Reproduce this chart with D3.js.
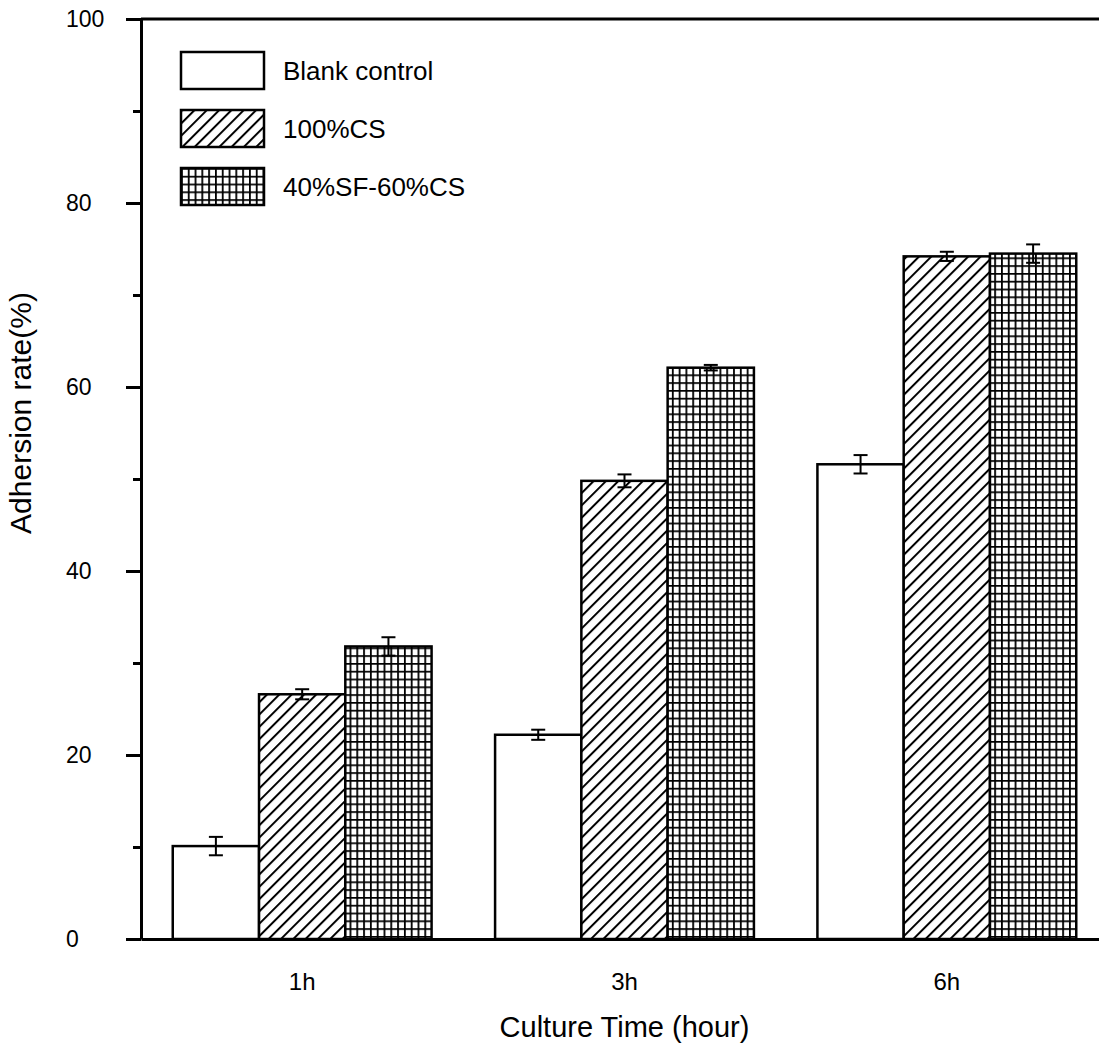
<!DOCTYPE html>
<html>
  <head>
    <title>Adhesion rate</title>
    <style>
      body { margin: 0; background: #fff; }
      text { font-family: "Liberation Sans", Arial, sans-serif; fill: #000; }
    </style>
  </head>
  <body>
    <svg id="chart"></svg>

    <script src="https://d3js.org/d3.v7.min.js"></script>
    <script>

// data
const times = ['1h', '3h', '6h'];
const series = ['Blank control', '100%CS', '40%SF-60%CS'];
const blankVals = [10.1, 22.2, 51.6];
const csVals = [26.6, 49.8, 74.2];
const sfcsVals = [31.8, 62.1, 74.5];
const blankErr = [1.0, 0.55, 1.0];
const csErr = [0.55, 0.7, 0.5];
const sfcsErr = [1.0, 0.3, 1.0];
const yTicks = [0, 20, 40, 60, 80, 100];
const yMinor = [10, 30, 50, 70, 90];

const width = 1099, height = 1044;
const plotLeft = 141, plotRight = 1108, plotTop = 19, plotBottom = 939;

const svg = d3.select('#chart')
  .attr('width', width)
  .attr('height', height);

// fill patterns
const defs = svg.append('defs');
const hatch = defs.append('pattern')
  .attr('id', 'hatch')
  .attr('patternUnits', 'userSpaceOnUse')
  .attr('width', 8.7).attr('height', 8.7)
  .attr('patternTransform', 'rotate(45)');
hatch.append('rect').attr('width', 8.7).attr('height', 8.7).attr('fill', '#fff');
hatch.append('line')
  .attr('x1', 1).attr('y1', 0).attr('x2', 1).attr('y2', 8.7)
  .attr('stroke', '#000').attr('stroke-width', 2);

const grid = defs.append('pattern')
  .attr('id', 'grid')
  .attr('patternUnits', 'userSpaceOnUse')
  .attr('width', 6.8).attr('height', 7.8);
grid.append('rect').attr('width', 6.8).attr('height', 7.8).attr('fill', '#fff');
grid.append('path')
  .attr('d', 'M0,0.9H6.8M0.9,0V7.8')
  .attr('stroke', '#000').attr('stroke-width', 1.8)
  .attr('fill', 'none');

const fills = ['#fff', 'url(#hatch)', 'url(#grid)'];

const x0 = d3.scaleBand()
  .domain(times)
  .range([plotLeft, plotRight])
  .paddingInner(0.197)
  .paddingOuter(0.0985);

const x1 = d3.scaleBand()
  .domain(series)
  .range([0, x0.bandwidth()]);

const y = d3.scaleLinear()
  .domain([0, 100])
  .range([plotBottom, plotTop]);

const data = times.map((t, i) => ({
  time: t,
  vals: [
    {s: series[0], v: blankVals[i], e: blankErr[i], k: 0},
    {s: series[1], v: csVals[i], e: csErr[i], k: 1},
    {s: series[2], v: sfcsVals[i], e: sfcsErr[i], k: 2}
  ]
}));

// bars
const groups = svg.selectAll('.grp')
  .data(data)
  .enter().append('g')
  .attr('class', 'grp')
  .attr('transform', d => `translate(${x0(d.time)},0)`);

groups.selectAll('rect')
  .data(d => d.vals)
  .enter().append('rect')
  .attr('x', d => x1(d.s))
  .attr('y', d => y(d.v))
  .attr('width', x1.bandwidth())
  .attr('height', d => y(0) - y(d.v))
  .attr('fill', d => fills[d.k])
  .attr('stroke', '#000')
  .attr('stroke-width', 2.5);

// error bars
const eb = groups.selectAll('.err')
  .data(d => d.vals)
  .enter().append('g')
  .attr('class', 'err')
  .attr('stroke', '#000')
  .attr('stroke-width', 2);

eb.append('line')
  .attr('x1', d => x1(d.s) + x1.bandwidth() / 2)
  .attr('x2', d => x1(d.s) + x1.bandwidth() / 2)
  .attr('y1', d => y(d.v - d.e))
  .attr('y2', d => y(d.v + d.e));
eb.append('line')
  .attr('x1', d => x1(d.s) + x1.bandwidth() / 2 - 7)
  .attr('x2', d => x1(d.s) + x1.bandwidth() / 2 + 7)
  .attr('y1', d => y(d.v + d.e))
  .attr('y2', d => y(d.v + d.e));
eb.append('line')
  .attr('x1', d => x1(d.s) + x1.bandwidth() / 2 - 7)
  .attr('x2', d => x1(d.s) + x1.bandwidth() / 2 + 7)
  .attr('y1', d => y(d.v - d.e))
  .attr('y2', d => y(d.v - d.e));

// axes
const yAxis = svg.append('g')
  .attr('transform', `translate(${plotLeft},0)`)
  .call(d3.axisLeft(y).tickValues(yTicks).tickSize(15).tickSizeOuter(0));
yAxis.select('.domain').attr('stroke-width', 3);
yAxis.selectAll('.tick line').attr('stroke-width', 3);
yAxis.selectAll('.tick text')
  .attr('x', 66 - plotLeft)
  .attr('text-anchor', 'start')
  .style('font-size', '23px')
  .style('font-family', '"Liberation Sans", Arial, sans-serif');

const yMinorAxis = svg.append('g')
  .attr('transform', `translate(${plotLeft},0)`)
  .call(d3.axisLeft(y).tickValues(yMinor).tickSize(8).tickFormat(''));
yMinorAxis.select('.domain').remove();
yMinorAxis.selectAll('.tick line').attr('stroke-width', 3);

const xAxis = svg.append('g')
  .attr('transform', `translate(0,${plotBottom})`)
  .call(d3.axisBottom(x0).tickSize(0).tickSizeOuter(0).tickPadding(34));
xAxis.select('.domain').attr('stroke-width', 3);
xAxis.selectAll('.tick text')
  .style('font-size', '24px')
  .style('font-family', '"Liberation Sans", Arial, sans-serif');

// top frame line
svg.append('line')
  .attr('x1', plotLeft).attr('x2', plotRight)
  .attr('y1', plotTop).attr('y2', plotTop)
  .attr('stroke', '#000').attr('stroke-width', 3);

// axis titles
svg.append('text')
  .attr('x', (plotLeft + plotRight) / 2)
  .attr('y', 1037)
  .attr('text-anchor', 'middle')
  .style('font-size', '29px')
  .text('Culture Time (hour)');

svg.append('text')
  .attr('transform', 'translate(31,413) rotate(-90)')
  .attr('text-anchor', 'middle')
  .style('font-size', '30px')
  .text('Adhersion rate(%)');

// legend
const legend = svg.selectAll('.leg')
  .data(series)
  .enter().append('g')
  .attr('class', 'leg')
  .attr('transform', (d, i) => `translate(181,${52 + i * 58})`);

legend.append('rect')
  .attr('width', 83).attr('height', 37)
  .attr('fill', (d, i) => fills[i])
  .attr('stroke', '#000')
  .attr('stroke-width', 2.5);

legend.append('text')
  .attr('x', 102)
  .attr('y', 18.5)
  .attr('dy', '0.35em')
  .style('font-size', '26px')
  .text(d => d);

    </script>
  </body>
</html>
